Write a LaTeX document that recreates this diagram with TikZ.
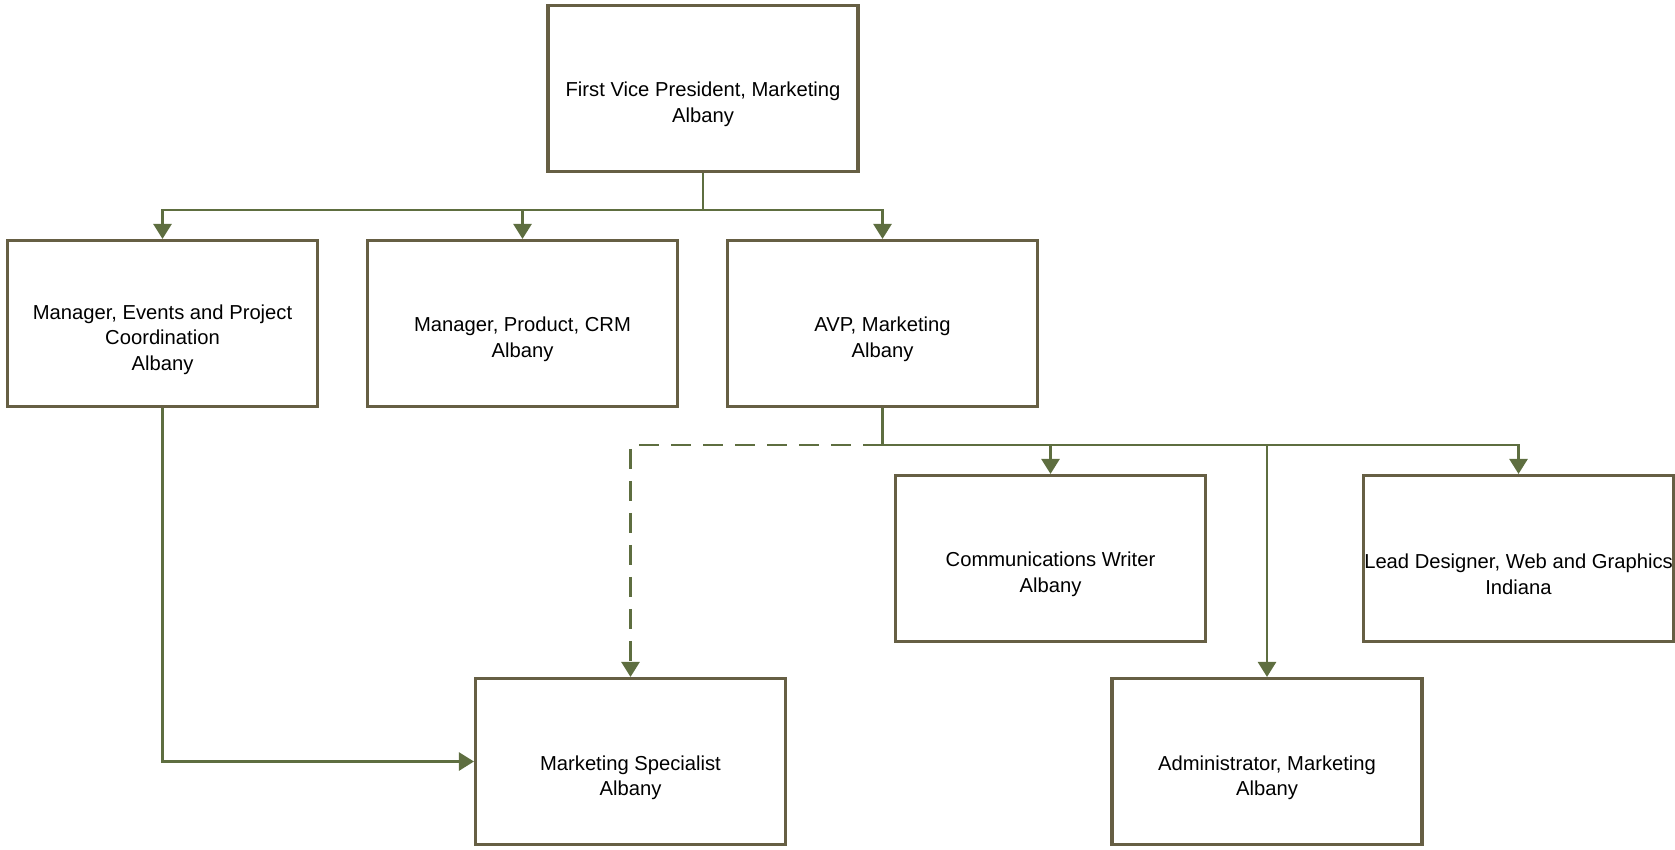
\documentclass[tikz,border=0pt]{standalone}
\usepackage{fontspec}
\setmainfont{Liberation Sans}
\usepackage{xcolor}
\usepackage{tikz}
\usetikzlibrary{shapes,arrows.meta}
\definecolor{boxline}{RGB}{102,95,68}
\definecolor{linkline}{RGB}{94,110,64}
\tikzstyle{block} = [rectangle, draw=boxline, line width=1.8pt, fill=white, minimum width=6.2cm, minimum height=3.32cm]
\tikzstyle{blocktext} = [align=center, yshift=-0.32cm, inner sep=0pt, font=\fontsize{11.5}{14.5}\selectfont]
\tikzstyle{line} = [draw=linkline, line width=1.5pt, -{Triangle[length=0.3cm,width=0.36cm]}]

\begin{document}
\begin{tikzpicture}[x=0.02cm, y=-0.02cm]
\useasboundingbox (0,0) rectangle (1675,849);
\node [block, label={[blocktext]center:First Vice President, Marketing\\Albany}] (fvp) at (703,88.5) {};
\node [block, label={[blocktext]center:Manager, Events and Project\\Coordination\\Albany}] (events) at (162.5,323.5) {};
\node [block, label={[blocktext]center:Manager, Product, CRM\\Albany}] (product) at (522.5,323.5) {};
\node [block, label={[blocktext]center:AVP, Marketing\\Albany}] (avp) at (882.5,323.5) {};
\node [block, label={[blocktext]center:Communications Writer\\Albany}] (writer) at (1050.5,558.5) {};
\node [block, label={[blocktext]center:Lead Designer, Web and Graphics\\Indiana}] (designer) at (1518.5,558.5) {};
\node [block, label={[blocktext]center:Marketing Specialist\\Albany}] (specialist) at (630.5,761.5) {};
\node [block, label={[blocktext]center:Administrator, Marketing\\Albany}] (admin) at (1267,761.5) {};
\coordinate (top bus) at (703,210);
\coordinate (avp bus) at (882.5,445);
\path [line] (fvp.south) -- (top bus) -| (events.north);
\path [line] (top bus) -| (product.north);
\path [line] (top bus) -| (avp.north);
\path [line] (avp.south) -- (avp bus) -| (writer.north);
\path [line] (avp bus) -| (designer.north);
\path [line] (avp bus) -| (admin.north);
\path [line, dash pattern=on 0.4cm off 0.24cm] (avp bus) -| (specialist.north);
\path [line] (events.south) |- (specialist.west);
\end{tikzpicture}
\end{document}
